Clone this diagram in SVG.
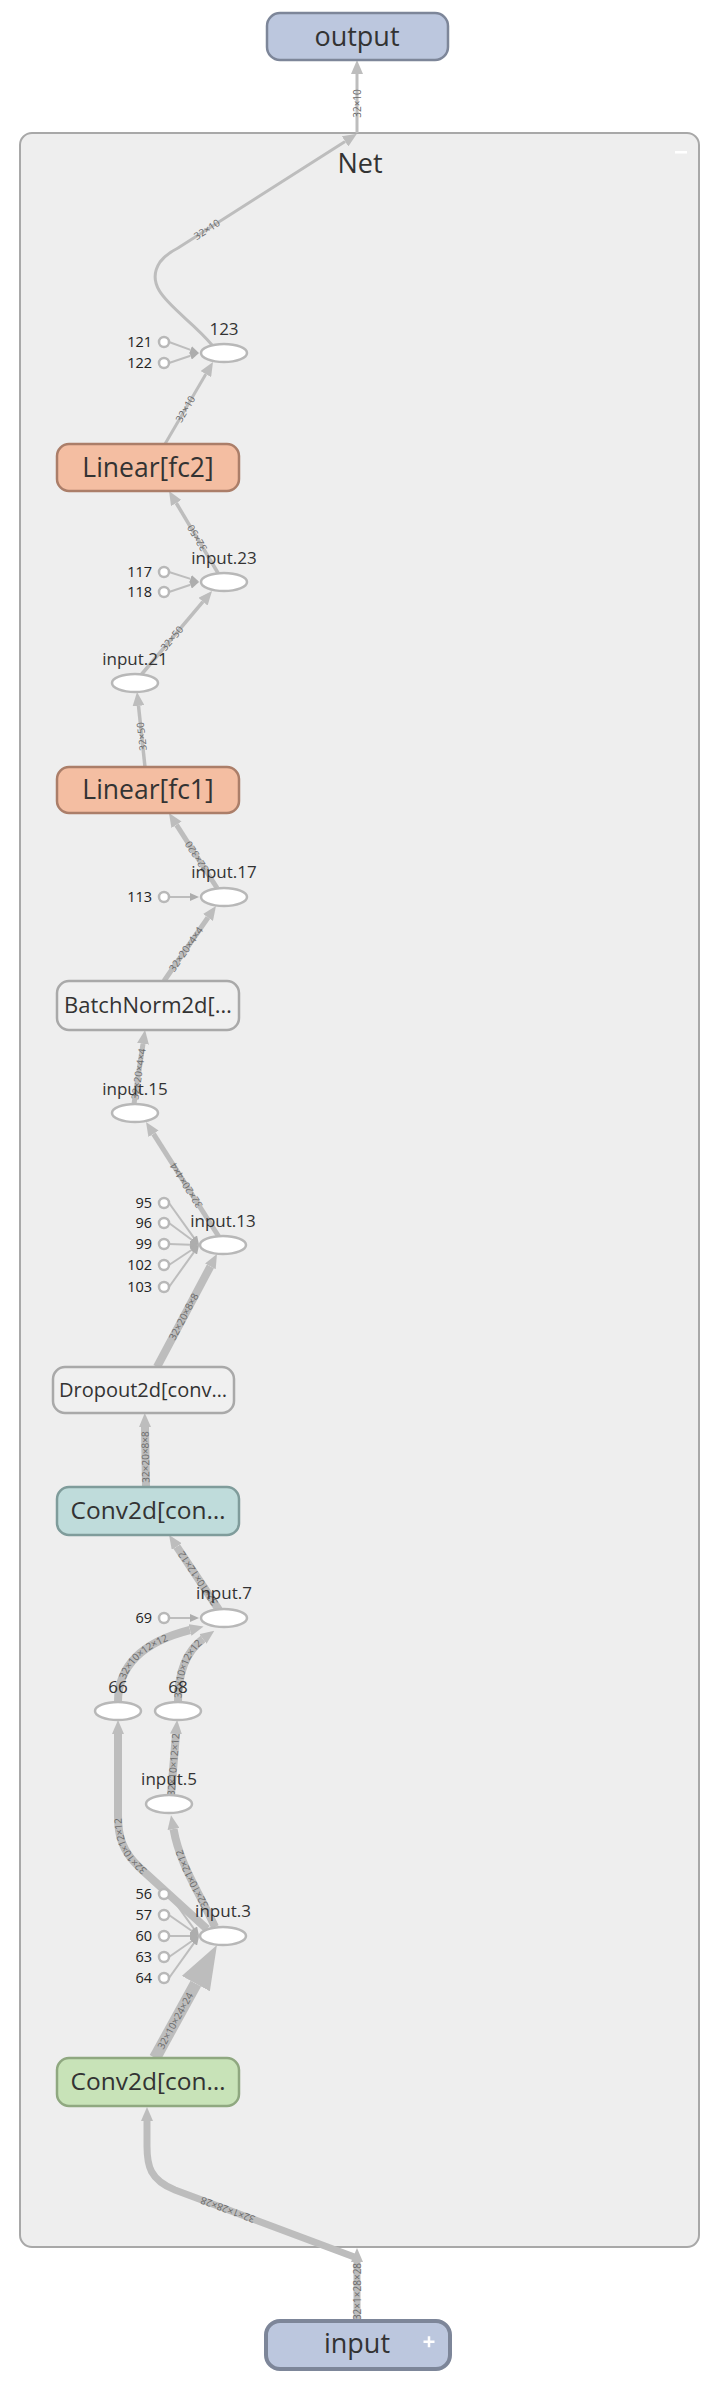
<svg xmlns="http://www.w3.org/2000/svg" width="712" height="2384" viewBox="0 0 712 2384">
<defs>
<style>
text{font-family:"Open Sans","Noto Sans","DejaVu Sans",sans-serif;}
.e{fill:none;stroke:#bdbdbd;stroke-linecap:butt;}
.c{fill:none;stroke:#bdbdbd;stroke-width:2;}
.lbl{font-size:10px;fill:#6a6a6a;}
.op{fill:#fff;stroke:#b8b8b8;stroke-width:2.5;}
.cst{fill:#fff;stroke:#b8b8b8;stroke-width:2.5;}
.opt{font-size:17px;fill:#333;text-anchor:middle;}
.cstt{font-size:14.5px;fill:#222;text-anchor:end;}
.nt{fill:#333;text-anchor:middle;}
.lin{fill:#f4bea2;stroke:#ab7e69;stroke-width:2.5;}
.gry{fill:#f0f0f0;stroke:#a9a9a9;stroke-width:2.5;}
.teal{fill:#bfdcdb;stroke:#7f9c9b;stroke-width:2.5;}
.grn{fill:#c8e3b8;stroke:#8fa880;stroke-width:2.5;}
.io{fill:#bcc7de;stroke:#7d8699;}
</style>
<marker id="ah" markerUnits="userSpaceOnUse" markerWidth="14" markerHeight="12" refX="0" refY="6" orient="auto"><path d="M0,0 L14,6 L0,12 z" fill="#bdbdbd"/></marker>
<marker id="big" markerUnits="userSpaceOnUse" markerWidth="44" markerHeight="32" refX="0" refY="16" orient="auto"><path d="M0,0 L44,16 L0,32 z" fill="#bdbdbd"/></marker>
<marker id="ca" markerUnits="userSpaceOnUse" markerWidth="9" markerHeight="8" refX="0" refY="4" orient="auto"><path d="M0,0 L9,4 L0,8 z" fill="#adadad"/></marker>
</defs>
<rect x="0" y="0" width="712" height="2384" fill="#ffffff"/>
<g id="Net">
<rect x="20" y="133" width="679" height="2114" rx="12" fill="#eeeeee" stroke="#a8a8a8" stroke-width="2"/>
<text x="360" y="173" class="nt" font-size="27">Net</text>
<rect x="675" y="151" width="12" height="2.5" fill="#ffffff"/>
</g>
<g id="connectors">
<path id="e1" class="e" stroke-width="3" d="M357 133 L357 74" marker-end="url(#ah)"/>
<path id="e2" class="e" stroke-width="3" d="M212 345 C185 312 140 292 160 262 C166 254 172 251 178 248 L345.1 141.4" marker-end="url(#ah)"/>
<path id="e3" class="e" stroke-width="3" d="M165 444 L205.9 374.1" marker-end="url(#ah)"/>
<path id="e4" class="e" stroke-width="3.5" d="M218 573 L176.2 503" marker-end="url(#ah)"/>
<path id="e5" class="e" stroke-width="3.5" d="M141 675 L203 601.7" marker-end="url(#ah)"/>
<path id="e6" class="e" stroke-width="3.5" d="M145 767 L138.5 705.9" marker-end="url(#ah)"/>
<path id="e7" class="e" stroke-width="5" d="M217 888 L176.5 824.8" marker-end="url(#ah)"/>
<path id="e8" class="e" stroke-width="5" d="M164 981 L208 917.5" marker-end="url(#ah)"/>
<path id="e9" class="e" stroke-width="5" d="M134 1104 L143 1043.8" marker-end="url(#ah)"/>
<path id="e10" class="e" stroke-width="5" d="M219 1237 L153.5 1133.8" marker-end="url(#ah)"/>
<path id="e11" class="e" stroke-width="8" d="M157 1367 L210.4 1266.4" marker-end="url(#ah)"/>
<path id="e12" class="e" stroke-width="8" d="M146 1487 L145 1427" marker-end="url(#ah)"/>
<path id="e13" class="e" stroke-width="8" d="M219 1610 L176.8 1546.6" marker-end="url(#ah)"/>
<path id="e14" class="e" stroke-width="8" d="M118 1702 C118 1660 150 1640 190 1630" marker-end="url(#ah)"/>
<path id="e15" class="e" stroke-width="8" d="M178 1702 C178 1670 188 1650 203 1639" marker-end="url(#ah)"/>
<path id="e16" class="e" stroke-width="8" d="M207 1929 L140 1868 C122 1851 118 1836 118 1816 L118 1734" marker-end="url(#ah)"/>
<path id="e17" class="e" stroke-width="8" d="M171 1795 L176 1734" marker-end="url(#ah)"/>
<path id="e18" class="e" stroke-width="8" d="M215 1927 C198 1890 180 1865 173.5 1829" marker-end="url(#ah)"/>
<path id="e19" class="e" stroke-width="12" d="M155 2058 L195.8 1983.6" marker-end="url(#big)"/>
<path id="e20" class="e" stroke-width="7" d="M357 2258 L175 2190 C150 2180 147 2166 147 2146 L147 2121" marker-end="url(#ah)"/>
<path id="e21" class="e" stroke-width="7" d="M357 2321 L357 2262" marker-end="url(#ah)"/>
<path class="c" d="M169 342 L190.5 349.9" marker-end="url(#ca)"/>
<path class="c" d="M169 363 L190.5 355.8" marker-end="url(#ca)"/>
<path class="c" d="M169 572 L190.5 578.9" marker-end="url(#ca)"/>
<path class="c" d="M169 592 L190.5 584.8" marker-end="url(#ca)"/>
<path class="c" d="M169 897 L190 897" marker-end="url(#ca)"/>
<path class="c" d="M169 1203 L193.8 1237.7" marker-end="url(#ca)"/>
<path class="c" d="M169 1223 L191.7 1239.7" marker-end="url(#ca)"/>
<path class="c" d="M169 1244 L190 1244.7" marker-end="url(#ca)"/>
<path class="c" d="M169 1265 L191.5 1250" marker-end="url(#ca)"/>
<path class="c" d="M169 1287 L193.8 1252.3" marker-end="url(#ca)"/>
<path class="c" d="M169 1618 L190 1618" marker-end="url(#ca)"/>
<path class="c" d="M169 1894 L193.8 1928.7" marker-end="url(#ca)"/>
<path class="c" d="M169 1915 L191.6 1930.8" marker-end="url(#ca)"/>
<path class="c" d="M169 1936 L190 1936" marker-end="url(#ca)"/>
<path class="c" d="M169 1957 L191.6 1941.2" marker-end="url(#ca)"/>
<path class="c" d="M169 1978 L193.8 1943.3" marker-end="url(#ca)"/>
<text class="lbl" dy="3.5"><textPath href="#e1" startOffset="50%" text-anchor="middle">32×10</textPath></text>
<text class="lbl" dy="3.5"><textPath href="#e2" startOffset="50%" text-anchor="middle">32×10</textPath></text>
<text class="lbl" dy="3.5"><textPath href="#e3" startOffset="50%" text-anchor="middle">32×10</textPath></text>
<text class="lbl" dy="3.5"><textPath href="#e4" startOffset="50%" text-anchor="middle">32×50</textPath></text>
<text class="lbl" dy="3.5"><textPath href="#e5" startOffset="50%" text-anchor="middle">32×50</textPath></text>
<text class="lbl" dy="3.5"><textPath href="#e6" startOffset="50%" text-anchor="middle">32×50</textPath></text>
<text class="lbl" dy="3.5"><textPath href="#e7" startOffset="50%" text-anchor="middle">32×320</textPath></text>
<text class="lbl" dy="3.5"><textPath href="#e8" startOffset="50%" text-anchor="middle">32×20×4×4</textPath></text>
<text class="lbl" dy="3.5"><textPath href="#e9" startOffset="50%" text-anchor="middle">32×20×4×4</textPath></text>
<text class="lbl" dy="3.5"><textPath href="#e10" startOffset="50%" text-anchor="middle">32×20×4×4</textPath></text>
<text class="lbl" dy="3.5"><textPath href="#e11" startOffset="50%" text-anchor="middle">32×20×8×8</textPath></text>
<text class="lbl" dy="3.5"><textPath href="#e12" startOffset="50%" text-anchor="middle">32×20×8×8</textPath></text>
<text class="lbl" dy="3.5"><textPath href="#e13" startOffset="50%" text-anchor="middle">32×10×12×12</textPath></text>
<text class="lbl" dy="3.5"><textPath href="#e14" startOffset="50%" text-anchor="middle">32×10×12×12</textPath></text>
<text class="lbl" dy="3.5"><textPath href="#e15" startOffset="50%" text-anchor="middle">32×10×12×12</textPath></text>
<text class="lbl" dy="3.5"><textPath href="#e16" startOffset="50%" text-anchor="middle">32×10×12×12</textPath></text>
<text class="lbl" dy="3.5"><textPath href="#e17" startOffset="50%" text-anchor="middle">32×10×12×12</textPath></text>
<text class="lbl" dy="3.5"><textPath href="#e18" startOffset="50%" text-anchor="middle">32×10×12×12</textPath></text>
<text class="lbl" dy="3.5"><textPath href="#e19" startOffset="50%" text-anchor="middle">32×10×24×24</textPath></text>
<text class="lbl" dy="3.5"><textPath href="#e20" startOffset="50%" text-anchor="middle">32×1×28×28</textPath></text>
<text class="lbl" dy="3.5"><textPath href="#e21" startOffset="50%" text-anchor="middle">32×1×28×28</textPath></text>
</g>
<g id="output"><rect x="267" y="13" width="181" height="47" rx="13" class="io" stroke-width="2.5"/><text x="357" y="46" class="nt" font-size="27">output</text></g>
<g id="input"><rect x="266" y="2321" width="184" height="48" rx="14" class="io" stroke="#858c9c" stroke-width="4"/><text x="357" y="2353" class="nt" font-size="27">input</text><rect x="423.5" y="2340.5" width="11" height="2.5" fill="#fff"/><rect x="427.75" y="2336.25" width="2.5" height="11" fill="#fff"/></g>
<g id="fc2"><rect x="57" y="444" width="182" height="47" rx="12" class="lin"/><text x="148" y="477" class="nt" font-size="26.5">Linear[fc2]</text></g>
<g id="fc1"><rect x="57" y="767" width="182" height="46" rx="12" class="lin"/><text x="148" y="799" class="nt" font-size="26.5">Linear[fc1]</text></g>
<g id="bn"><rect x="57" y="981" width="182" height="49" rx="12" class="gry"/><text x="148" y="1013" class="nt" font-size="22">BatchNorm2d[…</text></g>
<g id="dropout"><rect x="53" y="1367" width="181" height="46" rx="12" class="gry"/><text x="143" y="1397" class="nt" font-size="20">Dropout2d[conv…</text></g>
<g id="conv2"><rect x="57" y="1487" width="182" height="48" rx="12" class="teal"/><text x="148" y="1519" class="nt" font-size="24.5">Conv2d[con…</text></g>
<g id="conv1"><rect x="57" y="2058" width="182" height="48" rx="12" class="grn"/><text x="148" y="2090" class="nt" font-size="24.5">Conv2d[con…</text></g>
<g id="n123"><ellipse cx="224" cy="353" rx="23" ry="9" class="op"/><text x="224" y="335" class="opt">123</text></g>
<g id="input23"><ellipse cx="224" cy="582" rx="23" ry="9" class="op"/><text x="224" y="564" class="opt">input.23</text></g>
<g id="input21"><ellipse cx="135" cy="683" rx="23" ry="9" class="op"/><text x="135" y="665" class="opt">input.21</text></g>
<g id="input17"><ellipse cx="224" cy="897" rx="23" ry="9" class="op"/><text x="224" y="878" class="opt">input.17</text></g>
<g id="input15"><ellipse cx="135" cy="1113" rx="23" ry="9" class="op"/><text x="135" y="1095" class="opt">input.15</text></g>
<g id="input13"><ellipse cx="223" cy="1245" rx="23" ry="9" class="op"/><text x="223" y="1227" class="opt">input.13</text></g>
<g id="input7"><ellipse cx="224" cy="1618" rx="23" ry="9" class="op"/><text x="224" y="1599" class="opt">input.7</text></g>
<g id="n66"><ellipse cx="118" cy="1711" rx="23" ry="9" class="op"/><text x="118" y="1693" class="opt">66</text></g>
<g id="n68"><ellipse cx="178" cy="1711" rx="23" ry="9" class="op"/><text x="178" y="1693" class="opt">68</text></g>
<g id="input5"><ellipse cx="169" cy="1804" rx="23" ry="9" class="op"/><text x="169" y="1785" class="opt">input.5</text></g>
<g id="input3"><ellipse cx="223" cy="1936" rx="23" ry="9" class="op"/><text x="223" y="1917" class="opt">input.3</text></g>
<g id="c121"><circle cx="164" cy="342" r="5" class="cst"/><text x="152" y="347" class="cstt">121</text></g>
<g id="c122"><circle cx="164" cy="363" r="5" class="cst"/><text x="152" y="368" class="cstt">122</text></g>
<g id="c117"><circle cx="164" cy="572" r="5" class="cst"/><text x="152" y="577" class="cstt">117</text></g>
<g id="c118"><circle cx="164" cy="592" r="5" class="cst"/><text x="152" y="597" class="cstt">118</text></g>
<g id="c113"><circle cx="164" cy="897" r="5" class="cst"/><text x="152" y="902" class="cstt">113</text></g>
<g id="c95"><circle cx="164" cy="1203" r="5" class="cst"/><text x="152" y="1208" class="cstt">95</text></g>
<g id="c96"><circle cx="164" cy="1223" r="5" class="cst"/><text x="152" y="1228" class="cstt">96</text></g>
<g id="c99"><circle cx="164" cy="1244" r="5" class="cst"/><text x="152" y="1249" class="cstt">99</text></g>
<g id="c102"><circle cx="164" cy="1265" r="5" class="cst"/><text x="152" y="1270" class="cstt">102</text></g>
<g id="c103"><circle cx="164" cy="1287" r="5" class="cst"/><text x="152" y="1292" class="cstt">103</text></g>
<g id="c69"><circle cx="164" cy="1618" r="5" class="cst"/><text x="152" y="1623" class="cstt">69</text></g>
<g id="c56"><circle cx="164" cy="1894" r="5" class="cst"/><text x="152" y="1899" class="cstt">56</text></g>
<g id="c57"><circle cx="164" cy="1915" r="5" class="cst"/><text x="152" y="1920" class="cstt">57</text></g>
<g id="c60"><circle cx="164" cy="1936" r="5" class="cst"/><text x="152" y="1941" class="cstt">60</text></g>
<g id="c63"><circle cx="164" cy="1957" r="5" class="cst"/><text x="152" y="1962" class="cstt">63</text></g>
<g id="c64"><circle cx="164" cy="1978" r="5" class="cst"/><text x="152" y="1983" class="cstt">64</text></g>
</svg>
